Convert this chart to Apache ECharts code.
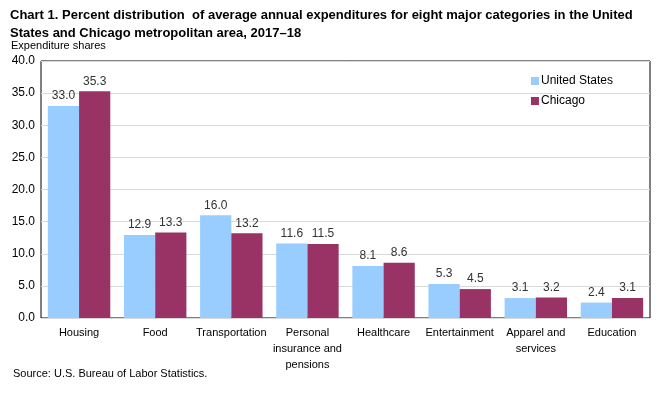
<!DOCTYPE html>
<html><head><meta charset="utf-8">
<script src="https://cdn.jsdelivr.net/npm/echarts@6/dist/echarts.min.js"></script>
<style>html,body{margin:0;padding:0;background:#fff}#c{width:664px;height:394px}</style>
</head><body><div id="c"></div>
<script>
const categories = ["Housing","Food","Transportation","Personal\ninsurance and\npensions","Healthcare","Entertainment","Apparel and\nservices","Education"];
const usValues = [33.0,12.9,16.0,11.6,8.1,5.3,3.1,2.4];
const chicagoValues = [35.3,13.3,13.2,11.5,8.6,4.5,3.2,3.1];
const seriesNames = ["United States","Chicago"];
const ff = "'Liberation Sans', Arial, sans-serif";
const chart = echarts.init(document.getElementById('c'));
const lbl = {show:true,position:'top',formatter:p=>p.value.toFixed(1),fontFamily:ff,fontSize:12,fontWeight:'normal',color:'#333',distance:4};
chart.setOption({
  animation:false,
  textStyle:{fontFamily:ff},
  title:[
    {text:"Chart 1. Percent distribution  of average annual expenditures for eight major categories in the United\nStates and Chicago metropolitan area, 2017–18",left:5,top:1,textStyle:{fontFamily:ff,fontSize:13,fontWeight:'bold',color:'#000',lineHeight:18}},
    {text:"Expenditure shares",left:6,top:35,textStyle:{fontFamily:ff,fontSize:11,fontWeight:'normal',color:'#000'}},
    {text:"Source: U.S. Bureau of Labor Statistics.",left:8,top:363,textStyle:{fontFamily:ff,fontSize:11,fontWeight:'normal',color:'#000'}}
  ],
  legend:{orient:'vertical',right:46,top:70,itemWidth:8,itemHeight:8,itemGap:8,icon:'rect',
    textStyle:{fontFamily:ff,fontSize:12,color:'#000',padding:[0,0,0,-3]},data:seriesNames},
  grid:{left:41,right:14,top:61,bottom:76,show:true,borderColor:'#000',borderWidth:1},
  xAxis:{type:'category',data:categories,axisLine:{show:false},axisTick:{show:false},
    axisLabel:{fontFamily:ff,fontSize:11,color:'#000',interval:0,margin:7,lineHeight:16}},
  yAxis:{type:'value',min:0,max:40,interval:5,axisLine:{show:false},axisTick:{show:false},
    splitLine:{lineStyle:{color:'#d9d9d9'}},
    axisLabel:{formatter:v=>v.toFixed(1),fontFamily:ff,fontSize:12,color:'#000',margin:6}},
  series:[
    {name:seriesNames[0],type:'bar',data:usValues,itemStyle:{color:'#99ccff'},barGap:'0%',barCategoryGap:'18%',label:lbl},
    {name:seriesNames[1],type:'bar',data:chicagoValues,itemStyle:{color:'#993366'},label:lbl}
  ]
});
</script></body></html>
